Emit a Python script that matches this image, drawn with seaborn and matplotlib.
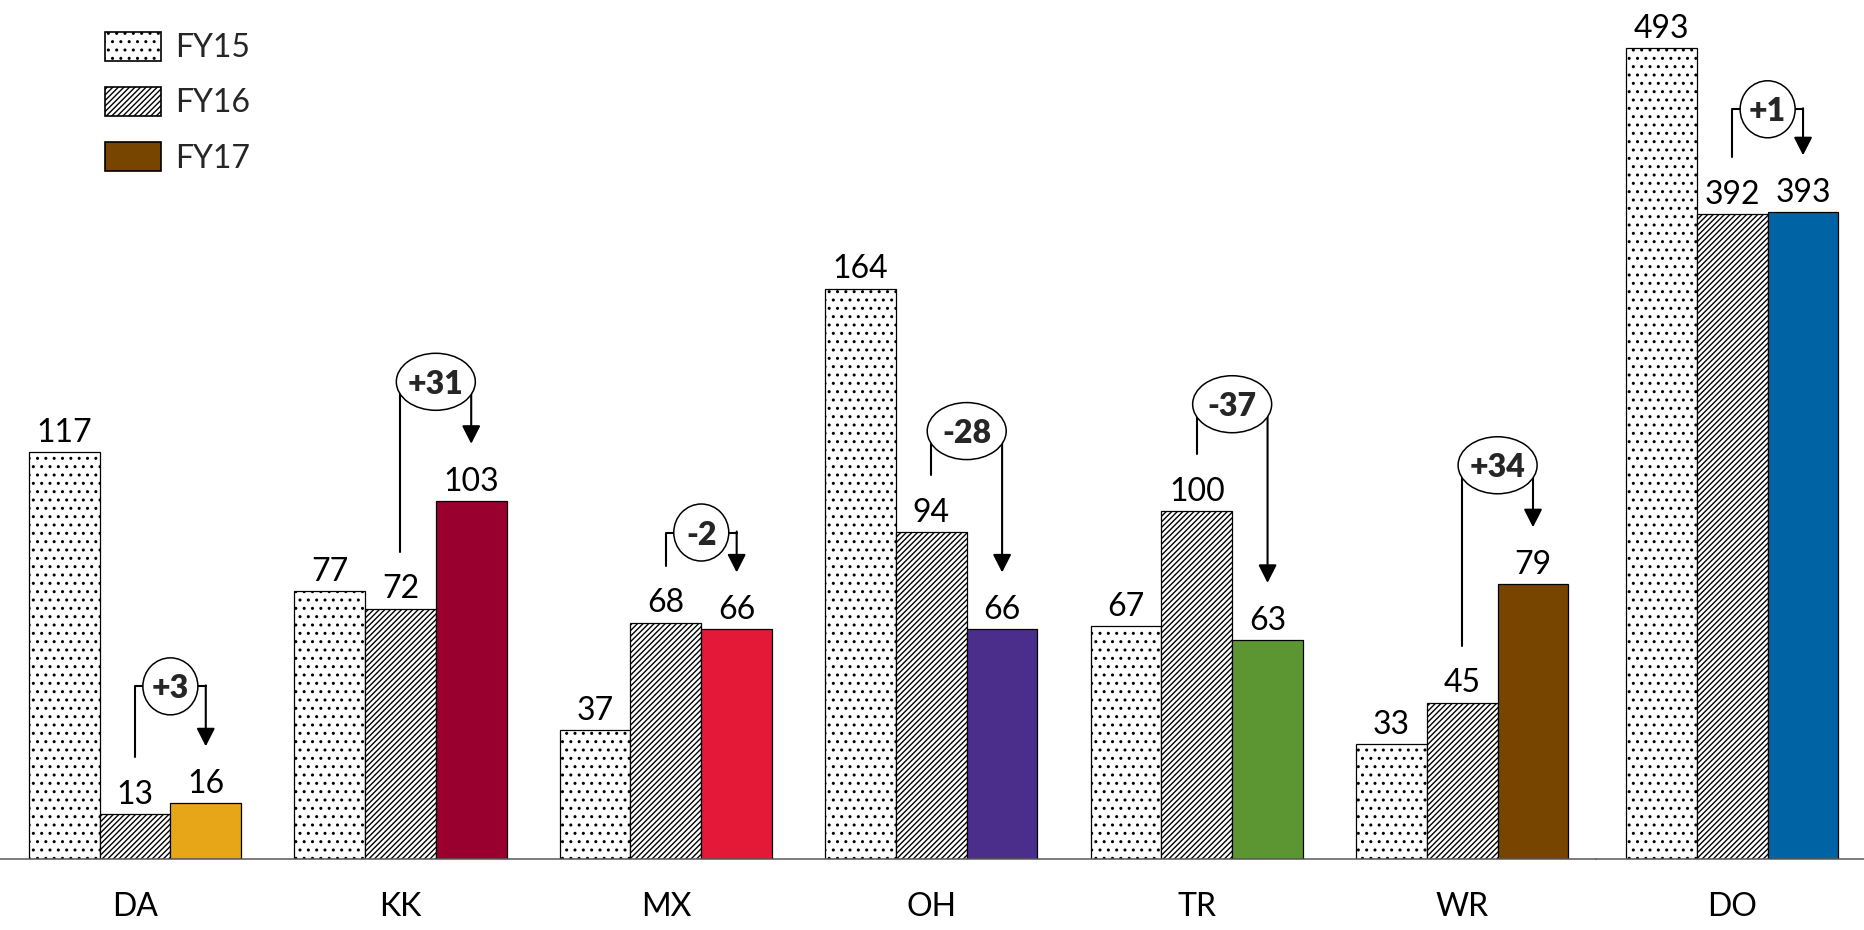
import seaborn as sns
import matplotlib.pyplot as plt
import pandas as pd
from matplotlib.patches import Patch, Ellipse, FancyArrowPatch
from matplotlib.lines import Line2D
from matplotlib.transforms import IdentityTransform

# data
sites = ['DA', 'KK', 'MX', 'OH', 'TR', 'WR', 'DO']
fy15 = [117, 77, 37, 164, 67, 33, 493]
fy16 = [13, 72, 68, 94, 100, 45, 392]
fy17 = [16, 103, 66, 66, 63, 79, 393]
years = ['FY15', 'FY16', 'FY17']
colors17 = ['#E6A617', '#990030', '#E31937', '#4B2E8C', '#5B9632', '#774500', '#0064A4']
separate = ['DO']  # drawn on its own scale

# layout: height of the delta bubble above the taller bar (pixels)
rise_px = [117, 119, 90, 101, 107, 119, 103]

sns.set_style('white')
plt.rcParams['font.family'] = ['Lato', 'DejaVu Sans']
plt.rcParams['hatch.linewidth'] = 1.0
FS = 23

df = pd.DataFrame({'site': sites * 3,
                   'year': [y for y in years for _ in sites],
                   'value': fy15 + fy16 + fy17})

fig = plt.figure(figsize=(18.65, 9.30), dpi=100)
W, H = 1865, 930
base = 71 / H
ax = fig.add_axes([0, base, 1596 / W, 1 - base])
ax2 = fig.add_axes([1596 / W, base, 1 - 1596 / W, 1 - base])

main_sites = [s for s in sites if s not in separate]
pal = {y: 'white' for y in years}


def draw(a, order, ylim, xlim):
    sub = df[df.site.isin(order)]
    sns.barplot(data=sub, x='site', y='value', hue='year', order=order, hue_order=years,
                palette=pal, saturation=1, edgecolor='black', linewidth=0.9,
                legend=False, ax=a)
    c15, c16, c17 = a.containers[:3]
    for b in c15:
        b.set_hatch('..')
    for b in c16:
        b.set_hatch('//////')
    for b, s in zip(c17, order):
        b.set_facecolor(colors17[sites.index(s)])
    for c in (c15, c16, c17):
        a.bar_label(c, padding=3, fontsize=FS, color='black')
    a.set_ylim(*ylim)
    a.set_xlim(*xlim)
    a.set_xlabel('')
    a.set_ylabel('')
    a.set_yticks([])
    a.tick_params(axis='x', length=0, pad=24, labelsize=FS, colors='black')
    for sp in ['top', 'left', 'right']:
        a.spines[sp].set_visible(False)
    a.spines['bottom'].set_color('#595959')
    a.spines['bottom'].set_linewidth(1.1)
    return c16, c17


def bracket(a, b16, b17, rise, text):
    to = a.transData.transform
    x16, y16 = to((b16.get_x() + b16.get_width() / 2, b16.get_height()))
    x17, y17 = to((b17.get_x() + b17.get_width() / 2, b17.get_height()))
    gap = 57
    cy = max(y16, y17) + rise
    cx = (x16 + x17) / 2
    fig.add_artist(Line2D([x16, x16, x17], [y16 + gap, cy, cy], color='black', lw=1.5,
                          transform=IdentityTransform(), zorder=3))
    fig.add_artist(FancyArrowPatch((x17, cy + 1), (x17, y17 + gap),
                                   arrowstyle='-|>,head_width=0.28,head_length=0.55',
                                   mutation_scale=20, color='black', lw=1.5,
                                   shrinkA=0, shrinkB=0,
                                   transform=IdentityTransform(), zorder=3))
    w = 55 if len(text) <= 2 else 79
    fig.add_artist(Ellipse((cx, cy), w, 57, facecolor='white', edgecolor='black', lw=1.1,
                           transform=IdentityTransform(), zorder=5))
    fig.text(cx / W, cy / H, text, ha='center', va='center_baseline', fontsize=FS,
             fontweight='heavy', zorder=6)


c16, c17 = draw(ax, main_sites, (0, 247.0), (-0.5085, 5.504))
d16, d17 = draw(ax2, separate, (0, 522.0), (-0.513, 0.5))

for i, s in enumerate(main_sites):
    k = sites.index(s)
    bracket(ax, c16[i], c17[i], rise_px[k], f'{fy17[k] - fy16[k]:+d}')
for i, s in enumerate(separate):
    k = sites.index(s)
    bracket(ax2, d16[i], d17[i], rise_px[k], f'{fy17[k] - fy16[k]:+d}')

handles = [Patch(facecolor='white', edgecolor='black', hatch='..', lw=1.2),
           Patch(facecolor='white', edgecolor='black', hatch='//////', lw=1.2),
           Patch(facecolor='#774500', edgecolor='black', lw=1.2)]
fig.legend(handles, years, loc='upper left', bbox_to_anchor=(105 / W, 1 - 32 / H),
           frameon=False, borderpad=0, borderaxespad=0, handlelength=1.75,
           handleheight=1.0, labelspacing=0.75, handletextpad=0.45, fontsize=FS)

fig.savefig('out.png', dpi=100)
